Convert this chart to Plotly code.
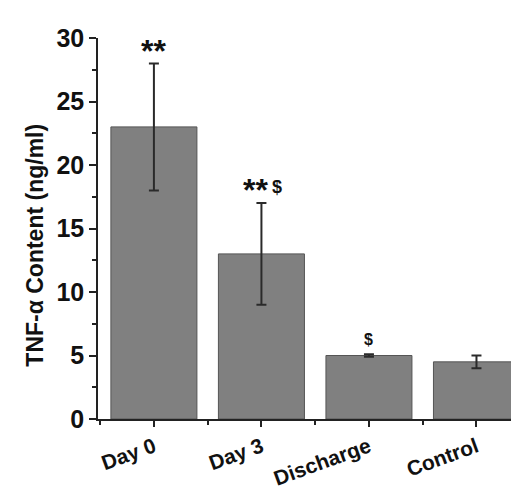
import plotly.graph_objects as go

categories = ["Day 0", "Day 3", "Discharge", "Control"]
values = [23.0, 13.0, 5.0, 4.5]
errors = [5.0, 4.0, 0.1, 0.5]
marks = ["**", "**$", "$", ""]
y_ticks = [0, 5, 10, 15, 20, 25, 30]
y_title = "TNF-α Content (ng/ml)"

FONT = "Arial, Liberation Sans, sans-serif"
xs = list(range(len(categories)))

fig = go.Figure()
fig.add_trace(go.Bar(
    x=xs, y=values, width=0.8,
    marker=dict(color="#808080", line=dict(color="#555555", width=1)),
    error_y=dict(type="data", array=errors, visible=True, color="#2a2a2a",
                 thickness=2, width=5),
))

for x, v, e, m in zip(xs, values, errors, marks):
    if not m:
        continue
    stars = m.rstrip("$")
    dollar = m.endswith("$")
    if stars and dollar:
        fig.add_annotation(x=x, y=v + e, text="<b>%s</b>" % stars, showarrow=False,
                           xanchor="right", xshift=9, yanchor="middle", yshift=13,
                           font=dict(family=FONT, size=32, color="#111"))
        fig.add_annotation(x=x, y=v + e, text="<b>$</b>", showarrow=False,
                           xanchor="left", xshift=9, yanchor="middle", yshift=16,
                           font=dict(family=FONT, size=18, color="#111"))
    elif stars:
        fig.add_annotation(x=x, y=v + e, text="<b>%s</b>" % stars, showarrow=False,
                           xanchor="center", yanchor="middle", yshift=12,
                           font=dict(family=FONT, size=32, color="#111"))
    else:
        fig.add_annotation(x=x, y=v + e, text="<b>$</b>", showarrow=False,
                           xanchor="center", yanchor="middle", yshift=15,
                           font=dict(family=FONT, size=16, color="#111"))

fig.add_annotation(xref="paper", yref="paper", x=0, y=0.455, xshift=-63,
                   text="<b>%s</b>" % y_title, textangle=-90, showarrow=False,
                   xanchor="center", yanchor="middle",
                   font=dict(family=FONT, size=23, color="#111"))

fig.update_layout(
    width=519, height=491,
    margin=dict(l=90, r=0, t=30, b=80, autoexpand=False),
    plot_bgcolor="white", paper_bgcolor="white",
    showlegend=False,
)
fig.update_xaxes(
    range=[-0.52, 3.47], tickvals=xs, ticktext=["<b>%s</b>" % c for c in categories],
    tickangle=-20, ticks="outside", ticklen=6, tickwidth=1.5, tickcolor="#222",
    showline=True, linecolor="#222", linewidth=1.5, showgrid=False, zeroline=False,
    automargin=False,
    tickfont=dict(family=FONT, size=21, color="#111"),
    minor=dict(ticks="outside", ticklen=4, tickwidth=1.5, tickcolor="#222",
               tick0=0.5, dtick=1, showgrid=False),
)
fig.update_yaxes(
    range=[0, 30], tickvals=y_ticks, ticktext=["<b>%d</b>" % t for t in y_ticks],
    ticks="outside", ticklen=7, tickwidth=1.5, tickcolor="#222",
    showline=True, linecolor="#222", linewidth=1.5, showgrid=False, zeroline=False,
    automargin=False,
    tickfont=dict(family=FONT, size=25, color="#111"),
    minor=dict(ticks="outside", ticklen=4, tickwidth=1.5, tickcolor="#222",
               tick0=2.5, dtick=5, showgrid=False),
)

fig.write_html("out.html")
